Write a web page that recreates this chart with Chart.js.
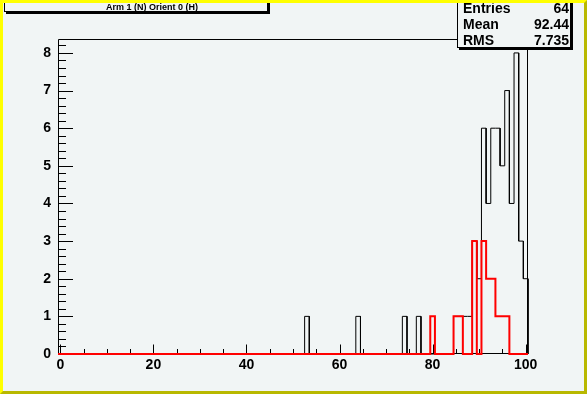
<!DOCTYPE html>
<html>
<head>
<meta charset="utf-8">
<script src="https://cdn.jsdelivr.net/npm/chart.js@4/dist/chart.umd.min.js"></script>
<style>
  body { margin: 0; background: #f1f5f5; }
  #wrap { position: relative; width: 587px; height: 394px; overflow: hidden; }
  #graph { position: absolute; left: 0; top: 0; }
  .box {
    position: absolute; box-sizing: border-box; background: #f1f5f5;
    border: 1px solid #000; box-shadow: 2px 2px 0 #000;
    font-family: "Liberation Sans", Arial, sans-serif; font-weight: bold; color: #000;
  }
  #title { left: 4px; top: -6px; width: 264px; height: 18px; font-size: 9px; }
  #title span { position: absolute; left: 32px; right: 0; top: 7px; line-height: 11px; text-align: center; }
  #stats { left: 457px; top: -9px; width: 114px; height: 57px; font-size: 14px; }
  #stats div { position: absolute; left: 5px; right: 1px; height: 16px; line-height: 16px; }
  #stats b { position: absolute; right: 0; top: 0; }
  #edge {
    position: absolute; left: 0; top: 0; width: 587px; height: 394px; box-sizing: border-box;
    border: 3px solid; border-color: #ffff00 #b8b800 #b8b800 #ffff00; pointer-events: none;
  }
</style>
</head>
<body>
<div id="wrap">
  <canvas id="graph" width="587" height="394"></canvas>
  <div class="box" id="title"><span>Arm 1 (N) Orient 0 (H)</span></div>
  <div class="box" id="stats">
    <div style="top:8px">Entries<b>64</b></div>
    <div style="top:24px">Mean<b>92.44</b></div>
    <div style="top:40px">RMS<b>7.735</b></div>
  </div>
  <div id="edge"></div>
</div>
<script>
// histogram: 101 bins of width 1, centred on 0..100
const firstBin = 0;
const nBins = 101;

const blackBins = [53, 64, 74, 77, 85, 86, 87, 88, 89, 90, 91, 92, 93, 94, 95, 96, 97, 98, 99, 100];
const blackCounts = [1, 1, 1, 1, 1, 1, 1, 1, 3, 2, 6, 4, 6, 6, 5, 7, 4, 8, 3, 2];

const redBins = [80, 85, 86, 89, 91, 92, 93, 94, 95, 96];
const redCounts = [1, 1, 1, 3, 3, 2, 2, 1, 1, 1];

const xTicks = [0, 20, 40, 60, 80, 100];
const yTicks = [0, 1, 2, 3, 4, 5, 6, 7, 8];

const font = { family: '"Liberation Sans", Arial, sans-serif', size: 14, weight: 'bold' };

// step outline of a histogram, corners at bin edges
function outline(bins, counts) {
  const full = new Array(nBins).fill(0);
  bins.forEach((b, i) => { full[b - firstBin] = counts[i]; });
  const pts = [];
  full.forEach((n, i) => {
    const lo = firstBin + i - 0.5;
    pts.push({ x: lo, y: n }, { x: lo + 1, y: n });
  });
  pts.push({ x: firstBin + nBins - 0.5, y: 0 });
  return pts;
}

// ROOT style frame with ticks pointing inwards
const frame = {
  id: 'frame',
  beforeDraw(chart) {
    const c = chart.ctx;
    c.save();
    c.fillStyle = '#f1f5f5';
    c.fillRect(0, 0, chart.width, chart.height);
    c.restore();
  },
  beforeDatasetsDraw(chart) {
    const c = chart.ctx;
    const a = chart.chartArea;
    const x = chart.scales.x;
    const y = chart.scales.y;
    const L = Math.round(a.left) + 0.5, R = Math.round(a.right) - 0.5;
    const T = Math.round(a.top) + 0.5, B = Math.round(a.bottom) - 0.5;
    c.save();
    c.strokeStyle = '#000';
    c.lineWidth = 1;
    c.beginPath();
    c.rect(L, T, R - L, B - T);
    for (let i = 0; i <= 20; i++) {
      const v = i * 5;
      const px = Math.round(x.getPixelForValue(v)) + 0.5;
      const len = v % 20 === 0 ? 9 : 4.5;
      c.moveTo(px, B); c.lineTo(px, B - len);
    }
    for (let i = 0; i <= 41; i++) {
      const v = i / 5;
      const py = Math.round(y.getPixelForValue(v)) + 0.5;
      if (py < T) continue;
      const len = i % 5 === 0 ? 14.5 : 7.5;
      c.moveTo(L, py); c.lineTo(L + len, py);
    }
    c.stroke();
    c.restore();
  }
};

new Chart(document.getElementById('graph').getContext('2d'), {
  type: 'line',
  data: {
    datasets: [
      {
        label: 'red',
        data: outline(redBins, redCounts),
        borderColor: '#ff0000',
        borderWidth: 2,
        pointRadius: 0,
        tension: 0,
        clip: false,
        order: 0
      },
      {
        label: 'black',
        data: outline(blackBins, blackCounts),
        borderColor: '#000000',
        borderWidth: 1,
        pointRadius: 0,
        tension: 0,
        clip: false,
        order: 1
      }
    ]
  },
  options: {
    responsive: false,
    animation: false,
    layout: { padding: { left: 0, top: 39, right: 59, bottom: 0 } },
    plugins: { legend: { display: false }, tooltip: { enabled: false } },
    scales: {
      x: {
        type: 'linear',
        min: -0.5,
        max: 100.5,
        afterFit: s => { s.height = 40; },
        afterBuildTicks: s => { s.ticks = xTicks.map(v => ({ value: v })); },
        grid: { display: false, drawTicks: false },
        border: { display: false },
        ticks: { font, color: '#000', padding: 3, maxRotation: 0, autoSkip: false }
      },
      y: {
        min: 0,
        max: 8.37,
        afterFit: s => { s.width = 58; },
        afterBuildTicks: s => { s.ticks = yTicks.map(v => ({ value: v })); },
        grid: { display: false, drawTicks: false },
        border: { display: false },
        ticks: { font, color: '#000', padding: 7, autoSkip: false }
      }
    }
  },
  plugins: [frame]
});
</script>
</body>
</html>
